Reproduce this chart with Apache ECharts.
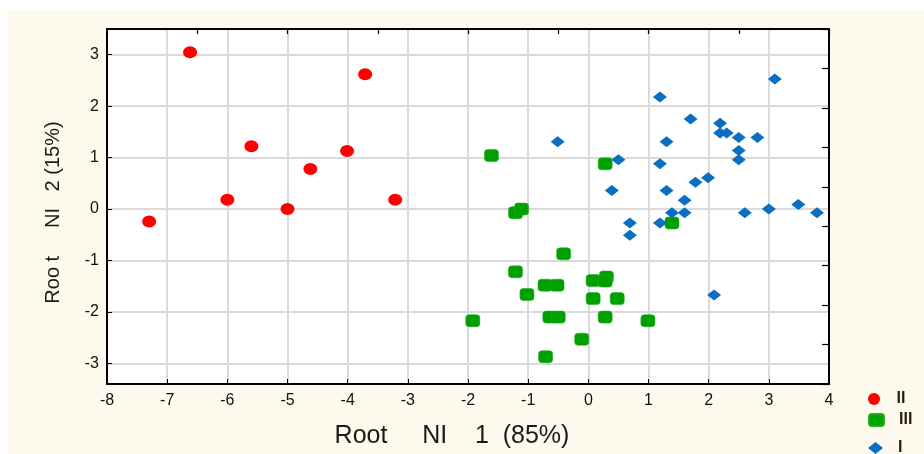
<!DOCTYPE html>
<html>
<head>
<meta charset="utf-8">
<script src="https://cdn.jsdelivr.net/npm/echarts@6/dist/echarts.min.js"></script>
<style>
html,body{margin:0;padding:0;background:#fff;}
#c{width:924px;height:454px;}
</style>
</head>
<body>
<div id="c"></div>
<script>
// Data
const legendNames = ['II', 'III', 'I'];
const xTickLabels = ['-8','-7','-6','-5','-4','-3','-2','-1','0','1','2','3','4'];
const yTickLabels = ['-3','-2','-1','0','1','2','3'];

const groupII = [
  [-7.30, -0.24], [-6.62, 3.05], [-6.00, 0.18], [-5.60, 1.22], [-5.00, 0.00],
  [-4.62, 0.78], [-4.01, 1.13], [-3.71, 2.62], [-3.21, 0.18]
];

const groupIII = [
  [-1.61, 1.04], [0.28, 0.88], [-1.21, -0.07], [-1.11, 0.00], [1.39, -0.27],
  [-0.41, -0.87], [-1.21, -1.22], [-0.72, -1.48], [-0.52, -1.48], [-1.02, -1.66],
  [0.08, -1.39], [0.30, -1.32], [0.28, -1.40], [0.08, -1.74], [0.48, -1.74],
  [-1.92, -2.17], [-0.64, -2.10], [-0.50, -2.10], [0.28, -2.10], [0.99, -2.17],
  [-0.11, -2.53], [-0.71, -2.87]
];

const groupI = [
  [3.10, 2.53], [1.19, 2.18], [1.70, 1.75], [2.19, 1.67], [2.19, 1.48],
  [2.30, 1.48], [2.50, 1.39], [2.81, 1.39], [-0.51, 1.31], [1.30, 1.31],
  [2.50, 1.14], [2.50, 0.96], [0.50, 0.96], [1.19, 0.88], [1.99, 0.61],
  [1.78, 0.52], [0.39, 0.36], [1.30, 0.36], [1.60, 0.17], [3.49, 0.09],
  [3.00, 0.00], [1.39, -0.07], [1.60, -0.07], [2.60, -0.07], [3.80, -0.07],
  [0.69, -0.27], [1.19, -0.27], [0.69, -0.51], [2.09, -1.67]
];

const colors = { II: '#ff0000', III: '#00a000', I: '#0a6fc2' };
const FONT = '"Liberation Sans", Arial, sans-serif';

const chart = echarts.init(document.getElementById('c'), null, { renderer: 'canvas' });

function legendCfg(name, top) {
  return {
    data: [name],
    orient: 'vertical',
    left: 863,
    top: top,
    itemWidth: 15,
    itemHeight: 12,
    itemGap: 0,
    textStyle: { fontFamily: FONT, fontSize: 16, fontWeight: 'bold', color: '#2a1d12', padding: [0, 0, 0, 10] },
    selectedMode: false
  };
}

const option = {
  animation: false,
  backgroundColor: '#ffffff',
  graphic: [{
    type: 'rect', z: -100, silent: true,
    shape: { x: 8, y: 10, width: 916, height: 444 },
    style: { fill: '#fdf9ec' }
  }],
  legend: [legendCfg('II', 386), legendCfg('III', 407), legendCfg('I', 435)],
  grid: {
    left: 107, right: 95, top: 29, bottom: 70,
    show: true, backgroundColor: '#ffffff', borderColor: '#000', borderWidth: 2,
    containLabel: false
  },
  xAxis: [{
    type: 'value', position: 'bottom', min: -8, max: 4, interval: 1,
    name: 'Root     NI    1  (85%)', nameLocation: 'middle', nameGap: 40,
    nameTextStyle: { fontFamily: FONT, fontSize: 25, color: '#1a1a1a', padding: [0, 32, 0, 0] },
    axisLine: { show: true, onZero: false, lineStyle: { color: '#000', width: 2 } },
    axisTick: { show: true, inside: true, length: 5, lineStyle: { color: '#000', width: 1 } },
    axisLabel: { fontFamily: FONT, fontSize: 16, color: '#111', margin: 9,
      formatter: v => xTickLabels[Math.round(v) + 8] },
    splitLine: { show: true, lineStyle: { color: '#dadada', width: 2 } }
  }, {
    type: 'value', position: 'top', min: 0, max: 8, interval: 1,
    axisLine: { show: true, onZero: false, lineStyle: { color: '#000', width: 2 } },
    axisTick: { show: true, inside: true, length: 5, lineStyle: { color: '#000', width: 1.2 } },
    axisLabel: { show: false },
    splitLine: { show: false }
  }],
  yAxis: [{
    type: 'value', position: 'left', min: -3.4, max: 3.5, splitNumber: 7,
    name: 'Roo t     NI   2 (15%)', nameLocation: 'middle', nameGap: 44, nameRotate: 90,
    nameTextStyle: { fontFamily: FONT, fontSize: 20, color: '#1a1a1a', padding: [0, 12, 0, 0] },
    axisLine: { show: true, onZero: false, lineStyle: { color: '#000', width: 2 } },
    axisTick: { show: true, inside: true, length: 5, lineStyle: { color: '#000', width: 1 } },
    axisLabel: { fontFamily: FONT, fontSize: 16, color: '#111', margin: 8,
      showMinLabel: false, showMaxLabel: false,
      formatter: v => { const i = Math.round(v) + 3; return (Math.abs(v - Math.round(v)) < 1e-6 && yTickLabels[i]) ? yTickLabels[i] : ''; } },
    splitLine: { show: true, lineStyle: { color: '#dadada', width: 2 } }
  }, {
    type: 'value', position: 'right', min: 0, max: 9, interval: 1,
    axisLine: { show: true, onZero: false, lineStyle: { color: '#000', width: 2 } },
    axisTick: { show: true, inside: true, length: 7, lineStyle: { color: '#000', width: 1.2 } },
    axisLabel: { show: false },
    splitLine: { show: false }
  }],
  series: [{
    name: 'II', type: 'scatter', xAxisIndex: 0, yAxisIndex: 0,
    symbol: 'circle', symbolSize: [14, 12],
    itemStyle: { color: colors.II, opacity: 1 },
    data: groupII
  }, {
    name: 'III', type: 'scatter', xAxisIndex: 0, yAxisIndex: 0,
    symbol: 'roundRect', symbolSize: [14, 12],
    itemStyle: { color: colors.III, opacity: 1, borderColor: '#1fae1f', borderWidth: 0.6 },
    data: groupIII
  }, {
    name: 'I', type: 'scatter', xAxisIndex: 0, yAxisIndex: 0,
    symbol: 'diamond', symbolSize: [14, 11],
    itemStyle: { color: colors.I, opacity: 1 },
    data: groupI
  }]
};

chart.setOption(option);
</script>
</body>
</html>
